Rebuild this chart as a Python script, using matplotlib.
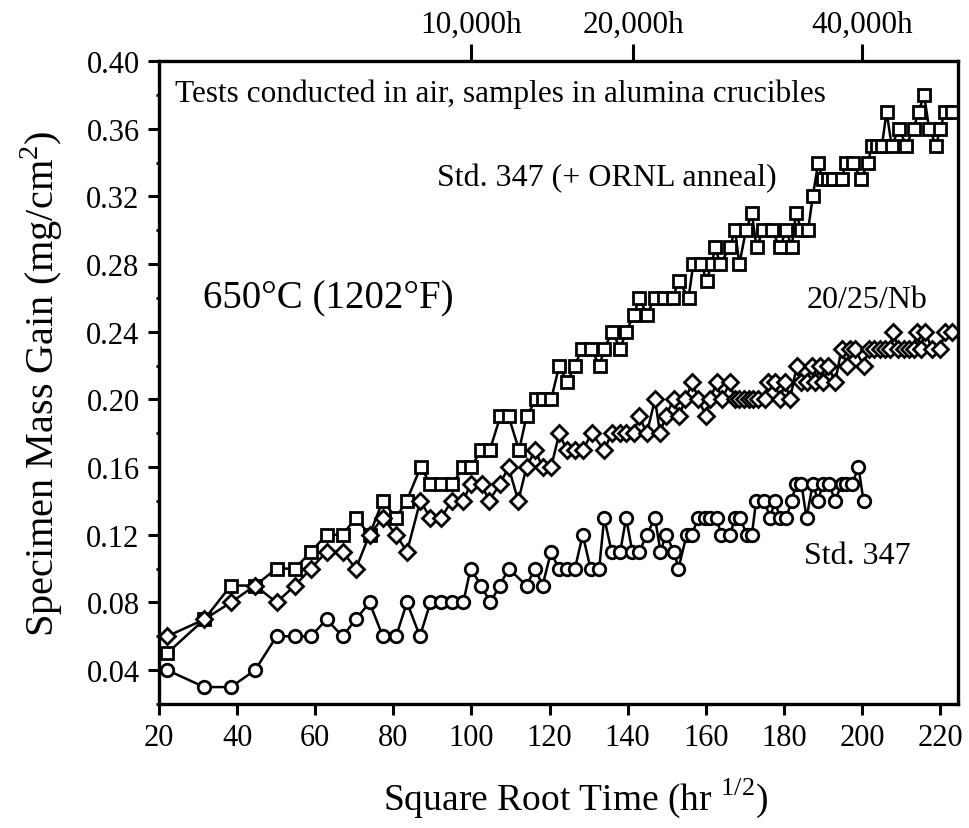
import matplotlib.pyplot as plt

plt.rcParams['font.family'] = ['Liberation Serif', 'DejaVu Serif']
plt.rcParams['mathtext.fontset'] = 'custom'
plt.rcParams['mathtext.rm'] = 'Liberation Serif'

# Std. 347 (+ ORNL anneal) - squares
sq_x = [22.1, 31.6, 38.4, 44.6, 50.1, 54.8, 58.9, 62.9, 67.0, 70.4, 73.9, 77.3, 80.7, 83.4,
        87.0, 89.5, 92.3, 95.1, 97.9, 99.9, 102.5, 104.7, 107.4, 109.5, 112.2, 114.1, 116.6,
        118.4, 120.4, 122.5, 124.5, 126.5, 128.3, 130.6, 132.8, 134.0, 136.1, 138.1, 139.6,
        141.6, 143.0, 144.9, 147.0, 149.3, 151.5, 153.1, 155.6, 156.8, 158.9, 160.2, 161.5,
        162.4, 163.7, 166.2, 167.5, 168.6, 170.3, 171.8, 173.0, 174.7, 176.9, 179.0, 180.6,
        182.0, 183.1, 184.5, 186.2, 187.4, 188.8, 189.9, 191.2, 192.6, 194.8, 195.9, 197.6,
        199.8, 201.5, 202.6, 203.9, 205.1, 206.3, 207.6, 209.5, 211.3, 213.2, 214.5, 215.9,
        217.2, 219.0, 220.0, 221.3, 223.0]
sq_y = [0.05, 0.07, 0.09, 0.09, 0.10, 0.10, 0.11, 0.12, 0.12, 0.13, 0.12, 0.14, 0.13, 0.14,
        0.16, 0.15, 0.15, 0.15, 0.16, 0.16, 0.17, 0.17, 0.19, 0.19, 0.17, 0.19, 0.20,
        0.20, 0.20, 0.22, 0.21, 0.22, 0.23, 0.23, 0.22, 0.23, 0.24, 0.23, 0.24,
        0.25, 0.26, 0.25, 0.26, 0.26, 0.26, 0.27, 0.26, 0.28, 0.28, 0.27, 0.28,
        0.29, 0.28, 0.29, 0.30, 0.28, 0.30, 0.31, 0.29, 0.30, 0.30, 0.29, 0.30,
        0.29, 0.31, 0.30, 0.30, 0.32, 0.34, 0.33, 0.33, 0.33, 0.33, 0.34, 0.34,
        0.33, 0.34, 0.35, 0.35, 0.35, 0.37, 0.35, 0.36, 0.35, 0.36, 0.37, 0.38,
        0.36, 0.35, 0.36, 0.37, 0.37]

# 20/25/Nb - diamonds
di_x = [22.1, 31.6, 38.4, 44.6, 50.1, 54.8, 58.9, 62.9, 67.0, 70.4, 73.9, 77.3, 80.7, 83.5,
        86.9, 89.5, 92.3, 94.9, 97.9, 99.8, 102.6, 104.5, 107.3, 109.5, 112.0, 114.1, 116.3,
        118.2, 120.4, 122.5, 124.4, 126.5, 128.5, 130.8, 134.0, 135.9, 138.1, 139.6, 141.5,
        143.0, 144.9, 147.0, 148.3, 149.7, 151.8, 153.2, 154.7, 156.6, 158.1, 160.1, 161.1,
        162.8, 164.1, 166.2, 167.4, 168.6, 169.8, 171.0, 172.2, 173.4, 175.2, 176.0, 177.7,
        179.0, 180.3, 181.6, 183.3, 184.5, 185.8, 187.1, 188.0, 189.3, 190.1, 191.4, 193.1,
        194.8, 196.1, 197.0, 198.2, 200.4, 201.8, 203.2, 204.6, 206.0, 207.3, 208.0, 209.3,
        210.7, 212.0, 213.2, 214.0, 215.0, 216.2, 217.9, 220.0, 221.3, 223.0]
di_y = [0.06, 0.07, 0.08, 0.09, 0.08, 0.09, 0.10, 0.11, 0.11, 0.10, 0.12, 0.13, 0.12, 0.11,
        0.14, 0.13, 0.13, 0.14, 0.14, 0.15, 0.15, 0.14, 0.15, 0.16, 0.14, 0.16, 0.17,
        0.16, 0.16, 0.18, 0.17, 0.17, 0.17, 0.18, 0.17, 0.18, 0.18, 0.18, 0.18,
        0.19, 0.18, 0.20, 0.18, 0.19, 0.20, 0.19, 0.20, 0.21, 0.20, 0.19, 0.20,
        0.21, 0.20, 0.21, 0.20, 0.20, 0.20, 0.20, 0.20, 0.20, 0.20, 0.21, 0.21,
        0.20, 0.21, 0.20, 0.22, 0.21, 0.21, 0.22, 0.21, 0.22, 0.21, 0.22, 0.21,
        0.23, 0.22, 0.23, 0.23, 0.22, 0.23, 0.23, 0.23, 0.23, 0.23, 0.24, 0.23,
        0.23, 0.23, 0.23, 0.24, 0.23, 0.24, 0.23, 0.23, 0.24, 0.24]

# Std. 347 - circles
ci_x = [22.1, 31.6, 38.4, 44.6, 50.1, 54.8, 58.9, 62.9, 67.0, 70.4, 73.9, 77.3, 80.7, 83.5,
        86.8, 89.5, 92.3, 95.1, 97.9, 99.8, 102.5, 104.8, 107.3, 109.5, 114.1, 116.3, 118.2,
        120.4, 122.3, 124.4, 126.5, 128.5, 130.5, 132.7, 134.0, 135.9, 138.1, 139.6, 141.2,
        143.0, 144.9, 147.0, 148.4, 149.8, 151.9, 153.0, 155.1, 156.4, 158.1, 159.7, 161.2,
        162.8, 163.9, 166.2, 167.5, 168.8, 170.5, 171.8, 172.9, 175.0, 176.5, 177.7, 179.0,
        180.6, 182.0, 183.1, 184.5, 185.8, 187.4, 188.8, 189.9, 191.6, 193.1, 194.8, 196.0,
        197.5, 199.1, 200.4]
ci_y = [0.04, 0.03, 0.03, 0.04, 0.06, 0.06, 0.06, 0.07, 0.06, 0.07, 0.08, 0.06, 0.06, 0.08,
        0.06, 0.08, 0.08, 0.08, 0.08, 0.10, 0.09, 0.08, 0.09, 0.10, 0.09, 0.10, 0.09,
        0.11, 0.10, 0.10, 0.10, 0.12, 0.10, 0.10, 0.13, 0.11, 0.11, 0.13, 0.11,
        0.11, 0.12, 0.13, 0.11, 0.12, 0.11, 0.10, 0.12, 0.12, 0.13, 0.13, 0.13,
        0.13, 0.12, 0.12, 0.13, 0.13, 0.12, 0.12, 0.14, 0.14, 0.13, 0.14, 0.13,
        0.13, 0.14, 0.15, 0.15, 0.13, 0.15, 0.14, 0.15, 0.15, 0.14, 0.15, 0.15,
        0.15, 0.16, 0.14]

top_ticks = [100, 141.42, 200]
top_labels = ['10,000h', '20,000h', '40,000h']

fig = plt.figure(figsize=(9.69, 8.29), dpi=100)
ax = fig.add_axes([0.1641, 0.1496, 0.8246, 0.7756])

style = dict(color='black', lw=1.8, mfc='white', mec='black', mew=2.0)
ax.plot(sq_x, sq_y, marker='s', ms=8.5, **style)
ax.plot(di_x, di_y, marker='D', ms=8.5, **style)
ax.plot(ci_x, ci_y, marker='o', ms=9, **style)

ax.set_xlim(20, 224.6)
ax.set_ylim(0.0215, 0.40)
ax.set_xticks(range(20, 221, 20))
ax.set_yticks([0.04, 0.08, 0.12, 0.16, 0.20, 0.24, 0.28, 0.32, 0.36, 0.40])
ax.set_yticklabels(['0.04', '0.08', '0.12', '0.16', '0.20', '0.24', '0.28', '0.32', '0.36', '0.40'])
ax.set_yticks([0.02, 0.06, 0.10, 0.14, 0.18, 0.22, 0.26, 0.30, 0.34, 0.38], minor=True)
ax.tick_params(axis='both', which='major', direction='out', length=8, width=2.2,
               labelsize=22, pad=6)
ax.tick_params(axis='y', which='minor', direction='out', length=2, width=2)
for sp in ax.spines.values():
    sp.set_linewidth(2.4)

sec = ax.secondary_xaxis('top')
sec.set_xticks(top_ticks)
sec.set_xticklabels(top_labels)
sec.tick_params(direction='out', length=12, width=2.2, labelsize=22.5, pad=4)

ax.set_xlabel(r'Square Root Time (hr $^{1/2}$)', fontsize=27, labelpad=17)
ax.xaxis.label.set_x(0.522)
ax.set_ylabel(r'Specimen Mass Gain (mg/cm$^{2}$)', fontsize=29, labelpad=15)

ax.text(24.1, 0.381, 'Tests conducted in air, samples in alumina crucibles', fontsize=22.5, va='center')
ax.text(91.2, 0.331, 'Std. 347 (+ ORNL anneal)', fontsize=23, va='center')
ax.text(31.3, 0.260, '650°C (1202°F)', fontsize=28, va='center')
ax.text(185.7, 0.259, '20/25/Nb', fontsize=23, va='center')
ax.text(185.2, 0.108, 'Std. 347', fontsize=23, va='center')

fig.savefig('out.png', dpi=100)
